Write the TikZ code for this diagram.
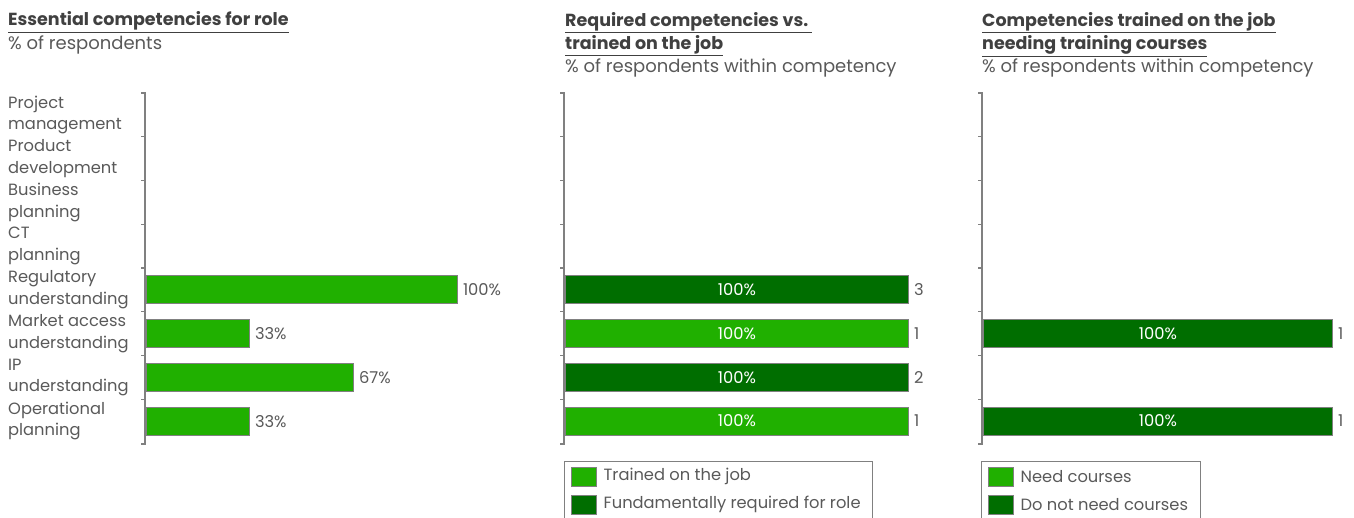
\documentclass[tikz,border=0pt]{standalone}
\usepackage{fontspec}
\setmainfont{Poppins}
\usetikzlibrary{positioning}
\definecolor{lightgrn}{RGB}{32,176,0}
\definecolor{darkgrn}{RGB}{0,110,0}
\definecolor{txtgray}{RGB}{89,89,89}
\definecolor{ttlgray}{RGB}{64,64,64}
\definecolor{edgegray}{RGB}{128,128,128}

\begin{document}
\begin{tikzpicture}[x=1pt,y=-1pt,
         txt/.style = {text=txtgray,inner sep=0pt,font=\fontsize{16.3}{21.5}\selectfont},
         sub/.style = {text=txtgray,inner sep=0pt,anchor=base west,font=\fontsize{18}{23}\selectfont},
         ttl/.style = {text=ttlgray,inner sep=0pt,anchor=base west,align=left,
            font=\fontsize{17.5}{23.3}\selectfont\bfseries},
         cat/.style = {txt,anchor=west,align=left},
         bar/.style = {draw=edgegray,line width=0.8pt,anchor=west,minimum height=28pt,
            inner sep=0pt,text=white,font=\fontsize{16.3}{18}\selectfont},
         barlt/.style = {bar,fill=lightgrn},
         bardk/.style = {bar,fill=darkgrn},
         val/.style = {txt,right=5pt},
         axis/.style = {draw=edgegray,line width=1.2pt},
         swatch/.style = {draw=edgegray,line width=0.8pt,minimum width=25pt,minimum height=19pt,inner sep=0pt},
         legbox/.style = {draw=edgegray,line width=0.6pt}
]
   \useasboundingbox (0,0) rectangle (1354,518);

   % panel 1
   \node[ttl] (t1) at (8,26) {\underline{Essential competencies for role}};
   \node[sub] (s1) at (8,50) {\% of respondents};

   \draw[axis] (141,93) -- (145,93) -- (145,444) -- (141,444);
   \foreach \y in {136.75,180.5,224.25,268,311.75,355.5,399.25}
      \draw[axis] (141,\y) -- (145,\y);

   \node[cat] (c1) at (8,114.9) {Project\\management};
   \node[cat] (c2) at (8,158.6) {Product\\development};
   \node[cat] (c3) at (8,202.4) {Business\\planning};
   \node[cat] (c4) at (8,246.1) {CT\\planning};
   \node[cat] (c5) at (8,289.9) {Regulatory\\understanding};
   \node[cat] (c6) at (8,333.6) {Market access\\understanding};
   \node[cat] (c7) at (8,377.4) {IP\\understanding};
   \node[cat] (c8) at (8,421.1) {Operational\\planning};

   \node[barlt,minimum width=311pt] (a5) at (146,289.9) {};
   \node[barlt,minimum width=103pt] (a6) at (146,333.6) {};
   \node[barlt,minimum width=207pt] (a7) at (146,377.4) {};
   \node[barlt,minimum width=103pt] (a8) at (146,421.1) {};
   \node[val] at (a5.east) {100\%};
   \node[val] at (a6.east) {33\%};
   \node[val] at (a7.east) {67\%};
   \node[val] at (a8.east) {33\%};

   % panel 2
   \node[ttl] (t2) at (565,49.5) {\underline{Required competencies vs.\ }\\\underline{trained on the job}};
   \node[sub] (s2) at (565,73) {\% of respondents within competency};

   \draw[axis] (560,93) -- (564,93) -- (564,444) -- (560,444);
   \foreach \y in {136.75,180.5,224.25,268,311.75,355.5,399.25}
      \draw[axis] (560,\y) -- (564,\y);

   \node[bardk,minimum width=343pt] (b5) at (565,289.9) {100\%};
   \node[barlt,minimum width=343pt] (b6) at (565,333.6) {100\%};
   \node[bardk,minimum width=343pt] (b7) at (565,377.4) {100\%};
   \node[barlt,minimum width=343pt] (b8) at (565,421.1) {100\%};
   \node[val] at (b5.east) {3};
   \node[val] at (b6.east) {1};
   \node[val] at (b7.east) {2};
   \node[val] at (b8.east) {1};

   \draw[legbox] (564,520) -- (564,461) -- (872,461) -- (872,520);
   \node[swatch,fill=lightgrn] (l2a) at (583.5,476.5) {};
   \node[swatch,fill=darkgrn] (l2b) at (583.5,504.5) {};
   \node[txt,right=7pt of l2a] {Trained on the job};
   \node[txt,right=7pt of l2b] {Fundamentally required for role};

   % panel 3
   \node[ttl] (t3) at (982,49.5) {\underline{Competencies trained on the job}\\\underline{needing training courses}};
   \node[sub] (s3) at (982,73) {\% of respondents within competency};

   \draw[axis] (978,93) -- (982,93) -- (982,444) -- (978,444);
   \foreach \y in {136.75,180.5,224.25,268,311.75,355.5,399.25}
      \draw[axis] (978,\y) -- (982,\y);

   \node[bardk,minimum width=349pt] (d6) at (983,333.6) {100\%};
   \node[bardk,minimum width=349pt] (d8) at (983,421.1) {100\%};
   \node[val] at (d6.east) {1};
   \node[val] at (d8.east) {1};

   \draw[legbox] (981,520) -- (981,461) -- (1200,461) -- (1200,520);
   \node[swatch,fill=lightgrn] (l3a) at (1000.5,476.5) {};
   \node[swatch,fill=darkgrn] (l3b) at (1000.5,504.5) {};
   \node[txt,right=7pt of l3a] {Need courses};
   \node[txt,right=7pt of l3b] {Do not need courses};
\end{tikzpicture}
\end{document}
